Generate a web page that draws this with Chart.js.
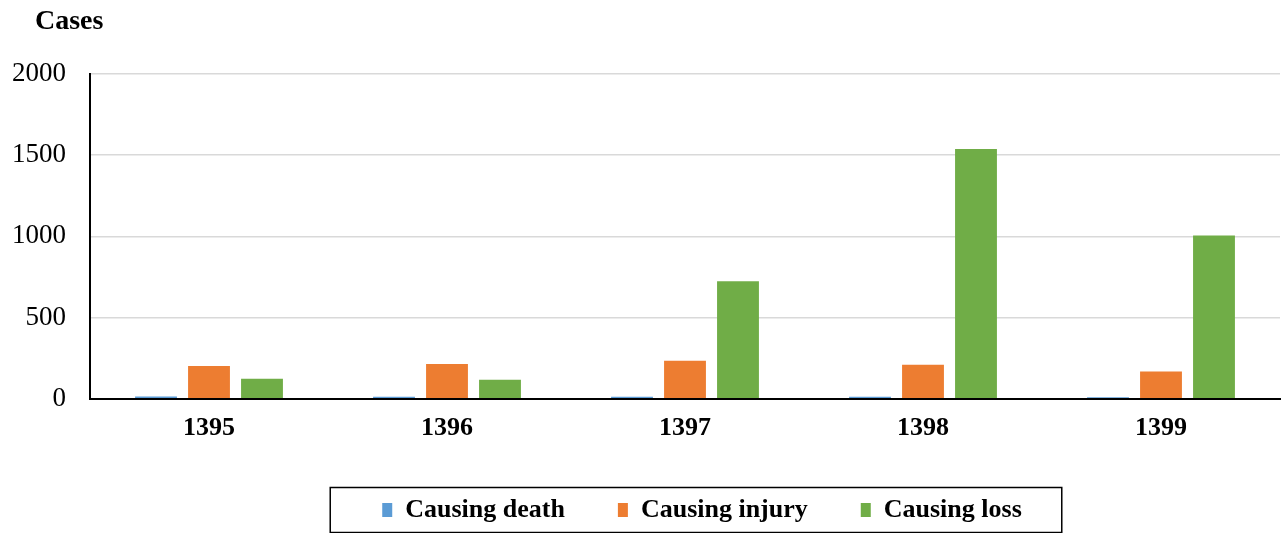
<!DOCTYPE html>
<html>
<head>
<meta charset="utf-8">
<script src="https://cdn.jsdelivr.net/npm/chart.js@4/dist/chart.umd.min.js"></script>
<style>
  html, body { margin: 0; padding: 0; background: #fff; }
  #wrap { width: 1281px; height: 533px; position: relative; }
</style>
</head>
<body>
<div id="wrap"><canvas id="chart"></canvas></div>
<script>
// ─── Data ────────────────────────────────────────────────────────
const years = ['1395', '1396', '1397', '1398', '1399'];
const causingDeath  = [14, 12, 13, 12, 10];
const causingInjury = [202, 215, 234, 210, 168];
const causingLoss   = [123, 117, 724, 1538, 1006];
const yTicks = [0, 500, 1000, 1500, 2000];

const FONT = "'Liberation Serif', 'Times New Roman', serif";

// "Cases" label above the y axis
const axisTitle = {
  id: 'axisTitle',
  afterDraw(chart) {
    const { ctx, chartArea } = chart;
    ctx.save();
    ctx.font = `bold 28px ${FONT}`;
    ctx.fillStyle = '#000';
    ctx.textAlign = 'left';
    ctx.textBaseline = 'middle';
    ctx.fillText('Cases', chartArea.left - 55, 22);
    ctx.restore();
  },
};

// nudge the legend a little right, as in the original
const legendShift = {
  id: 'legendShift',
  afterLayout(chart) {
    chart.legend.left += 17;
    chart.legend.right += 17;
  },
};

// black frame round the legend items
const legendFrame = {
  id: 'legendFrame',
  afterDraw(chart) {
    const boxes = chart.legend && chart.legend.legendHitBoxes;
    if (!boxes || !boxes.length) return;
    const left = Math.min(...boxes.map((b) => b.left)) - 52;
    const right = Math.max(...boxes.map((b) => b.left + b.width)) + 40;
    const mid = boxes[0].top + boxes[0].height / 2;
    const { ctx } = chart;
    ctx.save();
    ctx.strokeStyle = '#000';
    ctx.lineWidth = 1.5;
    ctx.strokeRect(left, mid - 22.5, right - left, 45);
    ctx.restore();
  },
};

new Chart(document.getElementById('chart'), {
  type: 'bar',
  data: {
    labels: years,
    datasets: [
      { label: 'Causing death',  data: causingDeath,  backgroundColor: '#5B9BD5' },
      { label: 'Causing injury', data: causingInjury, backgroundColor: '#ED7D31' },
      { label: 'Causing loss',   data: causingLoss,   backgroundColor: '#70AD47' },
    ],
  },
  options: {
    responsive: true,
    maintainAspectRatio: false,
    animation: false,
    datasets: { bar: { categoryPercentage: 0.668, barPercentage: 0.79 } },
    layout: { padding: { top: 74, right: 1, bottom: 0, left: 12 } },
    plugins: {
      title: { display: false },
      tooltip: { enabled: false },
      legend: {
        position: 'bottom',
        fullSize: false,
        labels: {
          boxWidth: 10,
          boxHeight: 14,
          padding: 53,
          color: '#000',
          font: { family: FONT, size: 26, weight: 'bold' },
        },
      },
    },
    scales: {
      x: {
        grid: { display: false, drawTicks: false },
        border: { color: '#000', width: 2 },
        ticks: { color: '#000', padding: 14, font: { family: FONT, size: 26, weight: 'bold' } },
        afterFit: (scale) => { scale.height -= 14; },
      },
      y: {
        min: 0,
        max: 2000,
        afterBuildTicks: (axis) => { axis.ticks = yTicks.map((v) => ({ value: v })); },
        grid: { color: '#d9d9d9', lineWidth: 1.5, drawTicks: false },
        border: { color: '#000', width: 2 },
        ticks: {
          color: '#000',
          padding: 24,
          font: { family: FONT, size: 27 },
          callback: (v) => String(v),
        },
        afterFit: (scale) => { scale.width -= 24; },
      },
    },
  },
  plugins: [axisTitle, legendShift, legendFrame],
});
</script>
</body>
</html>
